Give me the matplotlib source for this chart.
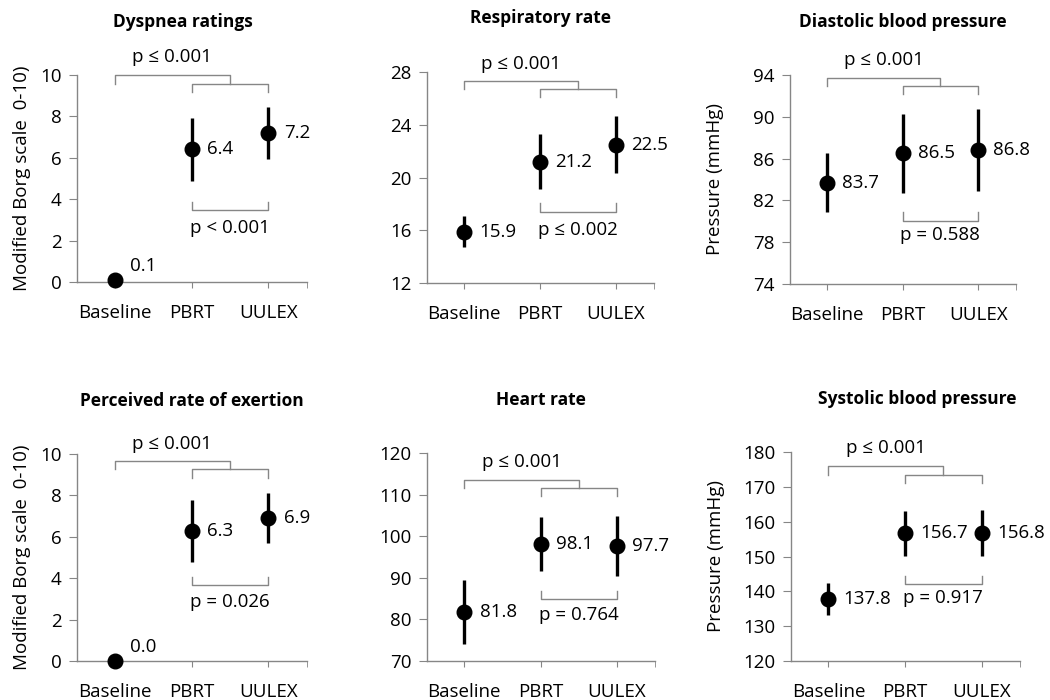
import matplotlib
matplotlib.use("Agg")
import matplotlib.pyplot as plt
import numpy as np

plt.rcParams['font.family'] = ['Open Sans', 'DejaVu Sans']

categories = ["Baseline", "PBRT", "UULEX"]

titles = ["Dyspnea ratings", "Respiratory rate", "Diastolic blood pressure",
          "Perceived rate of exertion", "Heart rate", "Systolic blood pressure"]
ylabels = ["Modified Borg scale  0-10)", "", "Pressure (mmHg)",
           "Modified Borg scale  0-10)", "", "Pressure (mmHg)"]

# means and error bar half-widths for each panel
dyspnea_mean = [0.1, 6.4, 7.2]
dyspnea_err = [0.0, 1.5, 1.25]
resp_mean = [15.9, 21.2, 22.5]
resp_err = [1.2, 2.1, 2.15]
dbp_mean = [83.7, 86.5, 86.8]
dbp_err = [2.8, 3.8, 3.95]
rpe_mean = [0.0, 6.3, 6.9]
rpe_err = [0.0, 1.5, 1.2]
hr_mean = [81.8, 98.1, 97.7]
hr_err = [7.6, 6.5, 7.2]
sbp_mean = [137.8, 156.7, 156.8]
sbp_err = [4.7, 6.45, 6.6]

means = [dyspnea_mean, resp_mean, dbp_mean, rpe_mean, hr_mean, sbp_mean]
errs = [dyspnea_err, resp_err, dbp_err, rpe_err, hr_err, sbp_err]

# y axis range and tick step
ylims = [(0, 10), (12, 28), (74, 94), (0, 10), (70, 120), (120, 180)]
ysteps = [2, 4, 4, 2, 10, 10]

# p-values: baseline vs exercise (top) and PBRT vs UULEX (bottom)
p_top = ["p ≤ 0.001"] * 6
p_low = ["p < 0.001", "p ≤ 0.002", "p = 0.588", "p = 0.026", "p = 0.764", "p = 0.917"]

# bracket heights: top bracket, lower bracket, top text, lower text
brackets = [(9.98, 3.46, 10.88, 2.6),
            (27.35, 17.4, 28.6, 16.05),
            (93.74, 80.06, 95.4, 78.7),
            (9.66, 3.66, 10.5, 2.85),
            (113.65, 84.8, 117.85, 81.0),
            (175.9, 142.0, 181.2, 138.0)]

# axes rectangles in figure fraction
rects = [[0.0733, 0.597, 0.219, 0.296],
         [0.4067, 0.5957, 0.2162, 0.3014],
         [0.7524, 0.5943, 0.2152, 0.2986],
         [0.0733, 0.0557, 0.219, 0.2957],
         [0.4067, 0.0557, 0.217, 0.297],
         [0.7533, 0.0557, 0.218, 0.2986]]
ylabel_x = [-0.2, 0, -0.29, -0.2, 0, -0.29]
title_x = [0.46, 0.5, 0.5, 0.5, 0.5, 0.55]

grey = "#868686"
fs = 13.5

fig = plt.figure(figsize=(10.5, 7), dpi=100)

for i in range(6):
	ax = fig.add_axes(rects[i])
	x = np.arange(len(categories))
	lo, hi = ylims[i]
	ax.errorbar(x, means[i], yerr=errs[i], fmt="o", color="black", ecolor="black",
		elinewidth=2.4, markersize=10.5, capsize=0, zorder=5, clip_on=False)

	ax.set_xlim(-0.49, 2.5)
	ax.set_ylim(lo, hi)
	ax.set_xticks(x)
	ax.set_xticklabels(categories, fontsize=fs)
	ax.set_xticks([2.5], minor=True)
	ax.set_yticks(np.arange(lo, hi + 0.1, ysteps[i]))
	ax.tick_params(axis="y", labelsize=fs, length=6, color=grey, pad=5)
	ax.tick_params(axis="x", which="both", length=4.5, color=grey, pad=11)
	for s in ["top", "right"]:
		ax.spines[s].set_visible(False)
	for s in ["left", "bottom"]:
		ax.spines[s].set_color(grey)
		ax.spines[s].set_linewidth(1.0)

	if ylabels[i]:
		ax.set_ylabel(ylabels[i], fontsize=fs)
		ax.yaxis.set_label_coords(ylabel_x[i], 0.5)

	ax.text(title_x[i], 1.255, titles[i], transform=ax.transAxes, ha="center", va="center",
		fontsize=12.5, fontweight="bold")

	# value labels next to each marker
	for xi, m in zip(x, means[i]):
		dy = 10 if (m - lo) < 0.05 * (hi - lo) else 0
		ax.annotate(f"{m:.1f}", (xi, m), xytext=(11, dy), textcoords="offset points",
			ha="left", va="center", fontsize=fs, annotation_clip=False)

	# significance brackets
	d = 0.04 * (hi - lo)
	yt, yl, tt, tl = brackets[i]
	ax.plot([0, 0, 1.5, 1.5], [yt - d, yt, yt, yt - d], color=grey, lw=1, clip_on=False)
	y2 = yt - d
	ax.plot([1, 1, 2, 2], [y2 - d, y2, y2, y2 - d], color=grey, lw=1, clip_on=False)
	ax.plot([1, 1, 2, 2], [yl + d, yl, yl, yl + d], color=grey, lw=1, clip_on=False)
	ax.text(0.75, tt, p_top[i], ha="center", va="center", fontsize=fs, clip_on=False)
	ax.text(1.5, tl, p_low[i], ha="center", va="center", fontsize=fs, clip_on=False)

plt.savefig("out.png", dpi=100)
